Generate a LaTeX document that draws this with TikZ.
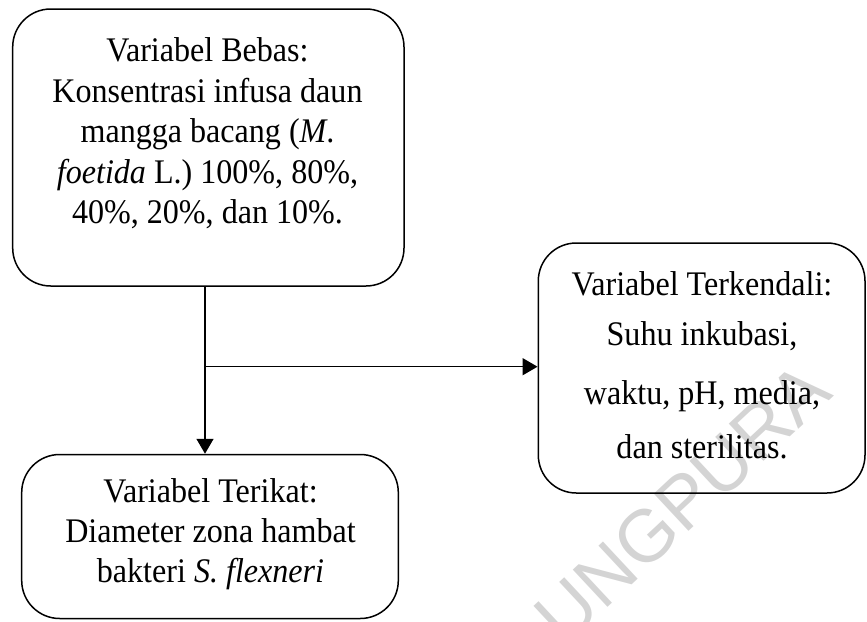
\documentclass[tikz,border=0pt]{standalone}
\usepackage{fontspec}
\setmainfont[FakeStretch=0.93]{Liberation Serif}
\newfontfamily\wmfont{Liberation Sans}
\usetikzlibrary{arrows.meta}
\tikzset{
  boxnode/.style={draw=black, line width=1.5pt, rounded corners=38pt, inner sep=0pt},
  linetext/.style={anchor=base, inner sep=0pt, font=\fontsize{34.5}{40}\selectfont},
  conn/.style={line width=1.5pt, -{Triangle[length=15pt,width=17pt]}},
  wmark/.style={rotate=43, inner sep=0pt, text=black!17, font=\wmfont\fontsize{74}{74}\selectfont}
}
\begin{document}
\begin{tikzpicture}[x=1pt,y=-1pt]
\useasboundingbox (0,0) rectangle (867,621);
% watermark
\node[wmark] (wm) at (682,503) {UNGPURA};

% boxes
\node[boxnode, minimum width=391.3pt, minimum height=277pt] (bebas) at (208.35,147.5) {};
\node[boxnode, minimum width=326.7pt, minimum height=250pt] (kendali) at (701.65,368) {};
\node[boxnode, minimum width=376.6pt, minimum height=164pt] (terikat) at (210,536.5) {};

% texts
\node[linetext] (b1) at (207.5,61.7) {Variabel Bebas:};
\node[linetext] (b2) at (207.5,102.2) {Konsentrasi infusa daun};
\node[linetext] (b3) at (207.5,142.7) {mangga bacang (\textit{M}.};
\node[linetext] (b4) at (207.5,183.2) {\textit{foetida} L.) 100\%, 80\%,};
\node[linetext] (b5) at (207.5,223.7) {40\%, 20\%, dan 10\%.};

\node[linetext] (k1) at (702,295) {Variabel Terkendali:};
\node[linetext] (k2) at (702,345) {Suhu inkubasi,};
\node[linetext] (k3) at (702,404) {waktu, pH, media,};
\node[linetext] (k4) at (702,458) {dan sterilitas.};

\node[linetext] (t1) at (210.5,502) {Variabel Terikat:};
\node[linetext] (t2) at (210.5,542) {Diameter zona hambat};
\node[linetext] (t3) at (210.5,582) {bakteri \textit{S. flexneri}};

% connectors
\coordinate (vx) at (205,0);
\coordinate (br) at (205,366.7);
\draw[conn] (bebas.south -| vx) -- (terikat.north -| vx);
\draw[conn] (br) -- (kendali.west |- br);
\end{tikzpicture}
\end{document}
